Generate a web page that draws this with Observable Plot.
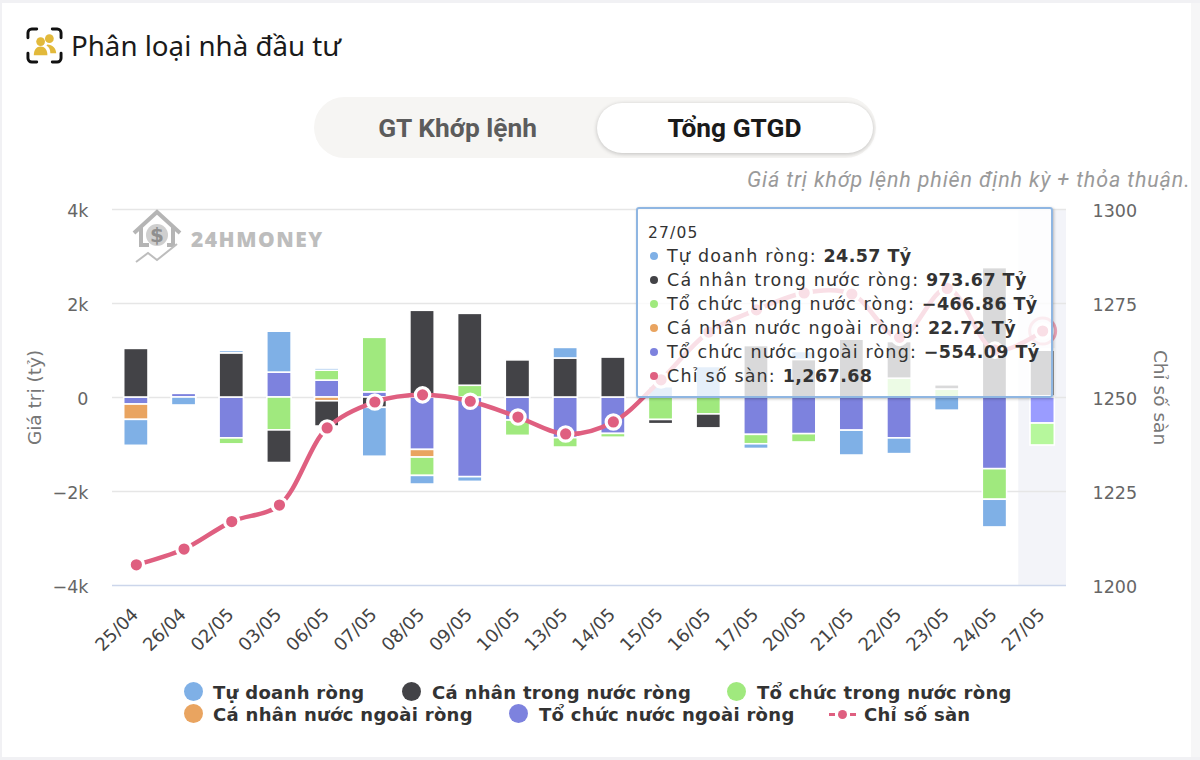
<!DOCTYPE html>
<html lang="vi">
<head>
<meta charset="utf-8">
<script src="https://cdn.jsdelivr.net/npm/d3@7"></script>
<script src="https://cdn.jsdelivr.net/npm/@observablehq/plot@0.6"></script>
<style>
html,body{margin:0;padding:0;width:1200px;height:760px;overflow:hidden;background:#f1f1f4;}
#card{position:absolute;left:2px;top:3px;width:1189px;height:754px;background:#fff;}
#strip{position:absolute;left:1191px;top:3px;width:9px;height:754px;background:#f6f6f7;}
.a{position:absolute;white-space:nowrap;}
#chart{position:absolute;left:0;top:190px;width:1200px;height:470px;}
#title{left:71px;top:26px;font:27.7px/38px "Noto Sans",sans-serif;color:#1a1a1a;}
#pill{left:314px;top:97px;width:562px;height:61px;border-radius:31px;background:#f6f5f3;}
#active{left:597px;top:103px;width:276px;height:50px;border-radius:25px;background:#fff;box-shadow:0 1px 4px rgba(0,0,0,.22);}
.tg{font:700 26.3px/50px Roboto,sans-serif;top:103px;text-align:center;transform:translateX(-50%);}
#sub{right:9.5px;top:167px;font:italic 21.5px/26px Roboto,sans-serif;letter-spacing:.85px;color:#9a9a9a;}
#tip{left:636px;top:207px;width:413px;height:187px;border:2px solid #8fb6e2;border-radius:3px;background:rgba(255,255,255,.8);box-shadow:1px 1px 3px rgba(0,0,0,.25);}
.tl{left:667px;font:17.5px/24px "DejaVu Sans",sans-serif;letter-spacing:1.18px;color:#333;}
.tl b{font-weight:700;letter-spacing:.42px;}
.td{width:8px;height:8px;border-radius:50%;left:650px;}
.lg{font:700 18px/22px "DejaVu Sans",sans-serif;color:#333;letter-spacing:.3px;}
.ld{width:19px;height:19px;border-radius:50%;}
#wm{left:191px;top:225px;font:800 21px/28px "Open Sans",sans-serif;letter-spacing:1.5px;color:#bdbdbd;}
</style>
</head>
<body>
<div id="card"></div><div id="strip"></div>
<div id="chart"></div>
<svg class="a" style="left:26px;top:27px" width="37" height="37" viewBox="0 0 38 38">
 <g fill="none" stroke="#111" stroke-width="3" stroke-linecap="round">
  <path d="M2 11V6a4 4 0 0 1 4-4h5M27 2h5a4 4 0 0 1 4 4v5M36 27v5a4 4 0 0 1-4 4h-5M11 36H6a4 4 0 0 1-4-4v-5"/>
 </g>
 <g fill="#e2b93b"><circle cx="15" cy="15" r="4.5"/><circle cx="24" cy="12" r="4.5"/><path d="M8 29c0-6 3-9 7-9s7 3 7 9z"/><path d="M22 18c5 0 9 4 9 9h-6c0-4-1-6-4-8z"/></g>
</svg>
<div class="a" id="title">Phân loại nhà đầu tư</div>
<div class="a" id="pill"></div><div class="a" id="active"></div>
<div class="a tg" style="left:457.5px;color:#5c5c5c">GT Khớp lệnh</div>
<div class="a tg" style="left:734.5px;color:#1a1a1a">Tổng GTGD</div>
<div class="a" id="sub">Giá trị khớp lệnh phiên định kỳ + thỏa thuận.</div>
<svg class="a" style="left:131px;top:208px" width="54" height="58" viewBox="0 0 54 58">
 <path d="M3 25L26 4l23 21M10 19v18h8M42 19v18h-6" fill="none" stroke="#b5b5b5" stroke-width="4"/>
 <circle cx="26" cy="27" r="11" fill="#cfcfcf"/>
 <text x="26" y="34" font-size="20" font-weight="700" text-anchor="middle" fill="#8f8f8f" font-family="DejaVu Sans">$</text>
 <path d="M5 54l12-9 9 7 20-16" fill="none" stroke="#bdbdbd" stroke-width="2"/>
</svg>
<div class="a" id="wm">24HMONEY</div>
<div class="a" id="tip"></div>
<div id="tiptext"></div>
<div id="legend"></div>
<script>
const dates = ["25/04","26/04","02/05","03/05","06/05","07/05","08/05","09/05","10/05","13/05","14/05","15/05","16/05","17/05","20/05","21/05","22/05","23/05","24/05","27/05"];
const tuDoanh   = [-552,-170,50,870,45,-1040,-184,-100,0,225,0,220,650,-100,170,-530,-335,-280,-590,24.57];
const caNhanTN  = [1034,0,940,-694,-538,-220,1845,1530,790,830,850,-90,-297,1095,800,1230,780,90,2754,973.67];
const toChucTN  = [0,0,-127,-700,210,1160,-390,250,-326,-200,-80,-478,-360,-200,-177,0,400,170,-650,-466.86];
const caNhanNN  = [-326,0,0,0,-80,0,-163,0,0,0,0,0,0,0,0,0,0,0,0,22.72];
const toChucNN  = [-150,78,-870,530,360,110,-1115,-1695,-490,-865,-775,0,0,-795,-780,-705,-870,0,-1525,-554.09];
const chiSoSan  = [1205.5,1209.7,1217,1221.4,1241.9,1248.8,1250.7,1249,1244.8,1240.3,1243.5,1254.7,1267.4,1273.3,1277.8,1277.5,1266,1279,1262.6,1267.68];

const names = ["Tự doanh ròng","Cá nhân trong nước ròng","Tổ chức trong nước ròng","Cá nhân nước ngoài ròng","Tổ chức nước ngoài ròng","Chỉ số sàn"];
const colors = ["#7fb0e6","#434347","#a0e97e","#e9a460","#7d82de","#df5f80"];
const hiColors = ["#9ccaff","#434347","#b6f79c","#ffb878","#9a9cff"];
const stackOrder = [4,3,2,1,0];
const seriesValues = [tuDoanh,caNhanTN,toChucTN,caNhanNN,toChucNN];
const leftTicks = [-4000,-2000,0,2000,4000];
const leftLabels = ["−4k","−2k","0","2k","4k"];
const rightLabels = ["1200","1225","1250","1275","1300"];
const tooltipDate = "27/05";
const tooltipValues = ["24.57 Tỷ","973.67 Tỷ","−466.86 Tỷ","22.72 Tỷ","−554.09 Tỷ","1,267.68"];

const rows = stackOrder.flatMap(s => dates.map((date,i)=>({date,s,value:seriesValues[s][i]}))).filter(d=>d.value!==0);
const toLeft = v => (v-1250)*80;
const index = dates.map((date,i)=>({date,v:chiSoSan[i]}));
const fam = "DejaVu Sans";

const plot = Plot.plot({
  width:1200,height:470,
  marginLeft:112,marginRight:134,marginTop:19,marginBottom:75,
  style:{background:"transparent",overflow:"visible"},
  x:{domain:dates,paddingInner:.49,paddingOuter:.245,round:false,label:null},
  y:{domain:[-4000,4000],label:null},
  marks:[
    Plot.barY([tooltipDate],{x:d=>d,y1:-4000,y2:4000,fill:"#f3f4f9",insetLeft:-11.7,insetRight:-11.7}),
    Plot.ruleY(leftTicks.slice(1),{stroke:"#e6e6e6",strokeWidth:1.5}),
    Plot.ruleY([-4000],{stroke:"#ccd6eb",strokeWidth:1.5}),
    Plot.axisY(leftTicks,{anchor:"left",tickSize:0,tickPadding:24,dy:2,tickFormat:d=>leftLabels[leftTicks.indexOf(d)],fill:"#666",label:null,fontSize:17.5,fontFamily:fam}),
    Plot.axisY(leftTicks,{anchor:"right",tickSize:0,tickPadding:26,dy:2,tickFormat:d=>rightLabels[leftTicks.indexOf(d)],fill:"#666",label:null,fontSize:17.5,fontFamily:fam}),
    Plot.text(["Giá trị (tỷ)"],{frameAnchor:"left",textAnchor:"middle",rotate:-90,dx:-77,fontSize:18.5,fontFamily:fam,fill:"#777"}),
    Plot.text(["Chỉ số sàn"],{frameAnchor:"right",textAnchor:"middle",rotate:90,dx:93,fontSize:18.5,fontFamily:fam,fill:"#777"}),
    Plot.axisX({tickSize:0,tickPadding:26,dx:-1,tickRotate:-45,fill:"#444",label:null,fontSize:18,fontFamily:fam}),
    Plot.barY(rows,Plot.stackY({order:null,x:"date",y:"value",fill:d=>(d.date===tooltipDate?hiColors:colors)[d.s],stroke:"#fff",strokeWidth:1.6})),
    Plot.line(index,{x:"date",y:d=>toLeft(d.v),stroke:colors[5],strokeWidth:4.5,curve:"catmull-rom"}),
    Plot.dot(index,{x:"date",y:d=>toLeft(d.v),fill:colors[5],stroke:"#fff",strokeWidth:3.2,r:7.2}),
    Plot.dot(index.slice(-1),{x:"date",y:d=>toLeft(d.v),fill:"none",stroke:colors[5],strokeOpacity:.55,strokeWidth:3,r:13})
  ]
});
document.getElementById("chart").appendChild(plot);

function el(parent,cls,style,html){const e=document.createElement("div");e.className="a "+cls;Object.assign(e.style,style);if(html!==undefined)e.innerHTML=html;parent.appendChild(e);return e;}
const tt=document.getElementById("tiptext");
el(tt,"tl",{left:"648px",top:"221px",fontSize:"15.5px"},tooltipDate);
names.forEach((n,i)=>{
  const y=244+i*24;
  el(tt,"td",{top:(y+8)+"px",background:colors[i]});
  el(tt,"tl",{top:y+"px"},n+": <b>"+tooltipValues[i]+"</b>");
});
const lg=document.getElementById("legend");
const lpos=[[184,213,681],[402,432,681],[727,757,681],[184,213,703],[509,539,703]];
lpos.forEach((p,i)=>{
  el(lg,"ld",{left:p[0]+"px",top:(p[2]+1)+"px",background:colors[i]});
  el(lg,"lg",{left:p[1]+"px",top:(p[2]+0.5)+"px"},names[i]);
});
el(lg,"",{left:"829px",top:"713px",width:"27px",height:"0",borderTop:"3px dashed "+colors[5]});
el(lg,"",{left:"838px",top:"710px",width:"9px",height:"9px",borderRadius:"50%",background:colors[5]});
el(lg,"lg",{left:"864px",top:"703.5px"},names[5]);
</script>
</body>
</html>
